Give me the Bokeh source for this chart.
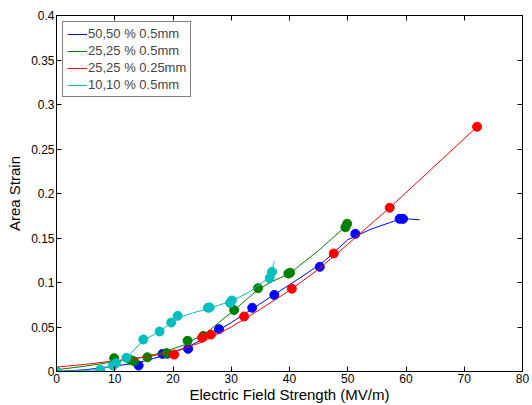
from bokeh.plotting import figure
from bokeh.models import (Range1d, FixedTicker, LinearAxis, CustomJSTickFormatter,
                          Legend, LegendItem)
from bokeh.embed import file_html
from bokeh.resources import INLINE

# ---- data ----
series_names = ["50,50 % 0.5mm", "25,25 % 0.5mm", "25,25 % 0.25mm", "10,10 % 0.5mm"]
series_colors = ["#0000ff", "#008000", "#ff0000", "#00bfbf"]

# measured points (markers)
blue_x = [14.1, 18.2, 19.0, 22.6, 27.9, 33.6, 37.4, 45.2, 51.3, 58.9, 59.5]
blue_y = [0.0067, 0.0198, 0.020, 0.0255, 0.0476, 0.0716, 0.086, 0.1176, 0.1547, 0.1715, 0.1715]
green_x = [9.9, 12.7, 13.3, 15.6, 18.9, 22.5, 25.2, 30.5, 34.6, 39.8, 40.1, 49.6, 49.9]
green_y = [0.015, 0.013, 0.0116, 0.016, 0.0206, 0.0345, 0.040, 0.069, 0.0936, 0.110, 0.111, 0.162, 0.166]
red_x = [0.0, 20.2, 25.0, 26.5, 32.2, 40.4, 47.6, 57.2, 72.2]
red_y = [0.0, 0.019, 0.038, 0.0415, 0.0618, 0.093, 0.1326, 0.184, 0.275]
cyan_x = [0.0, 7.5, 9.7, 10.2, 12.0, 14.9, 17.7, 19.7, 20.8, 26.0, 26.3, 29.8, 30.1, 36.6, 37.0]
cyan_y = [0.0, 0.002, 0.0067, 0.0093, 0.0154, 0.036, 0.045, 0.055, 0.0626, 0.0716, 0.072, 0.077, 0.0798, 0.105, 0.112]

# fitted curves (lines)
blue_fx = [0.0, 5.0, 10.0, 14.0, 18.0, 22.0, 26.0, 30.0, 34.0, 38.0, 42.0, 46.0, 50.0, 54.0, 58.0, 60.0, 62.3]
blue_fy = [0.0, 0.002, 0.006, 0.010, 0.017, 0.026, 0.039, 0.055, 0.072, 0.089, 0.106, 0.124, 0.148, 0.160, 0.169, 0.1715, 0.1706]
green_fx = [0.0, 5.0, 10.0, 14.0, 18.0, 22.0, 26.0, 30.5, 34.6, 37.0, 40.0, 45.0, 49.8]
green_fy = [0.002, 0.006, 0.011, 0.015, 0.021, 0.030, 0.045, 0.069, 0.092, 0.101, 0.110, 0.136, 0.164]
red_fx = [0.0, 5.0, 10.0, 15.0, 20.0, 25.0, 30.0, 35.0, 40.0, 45.0, 50.0, 57.2, 72.2]
red_fy = [0.005, 0.008, 0.012, 0.016, 0.022, 0.033, 0.050, 0.070, 0.091, 0.115, 0.143, 0.184, 0.275]
cyan_fx = [0.0, 7.5, 10.0, 12.0, 14.9, 17.7, 20.8, 23.5, 26.2, 30.0, 33.0, 36.6, 37.4]
cyan_fy = [0.0, 0.002, 0.008, 0.015, 0.035, 0.045, 0.060, 0.066, 0.071, 0.079, 0.089, 0.106, 0.1236]

x_ticks = [0, 10, 20, 30, 40, 50, 60, 70, 80]
y_ticks = [0, 0.05, 0.1, 0.15, 0.2, 0.25, 0.3, 0.35, 0.4]

FONT = "Liberation Sans"

p = figure(width=532, height=405, output_backend="svg", toolbar_location=None,
           x_range=Range1d(0, 80), y_range=Range1d(0, 0.4),
           min_border_left=56, min_border_right=10, min_border_top=15, min_border_bottom=34)
p.xgrid.visible = False
p.ygrid.visible = False
p.outline_line_color = "black"
p.outline_line_width = 1
p.background_fill_color = "white"
p.border_fill_color = "white"

fmt = CustomJSTickFormatter(code="var s = tick.toFixed(2); s = s.replace(/0+$/, ''); s = s.replace(/\\.$/, ''); return s;")

for ax in p.xaxis:
    ax.ticker = FixedTicker(ticks=x_ticks)
    ax.axis_label = "Electric Field Strength (MV/m)"
for ax in p.yaxis:
    ax.ticker = FixedTicker(ticks=y_ticks)
    ax.formatter = fmt
    ax.axis_label = "Area Strain"

for ax in p.xaxis + p.yaxis:
    ax.major_tick_in = 5
    ax.major_tick_out = 0
    ax.minor_tick_in = 0
    ax.minor_tick_out = 0
    ax.axis_line_color = "black"
    ax.major_label_text_font = FONT
    ax.major_label_text_font_size = "12px"
    ax.major_label_text_color = "black"
    ax.axis_label_text_font = FONT
    ax.axis_label_text_font_size = "15px"
    ax.axis_label_text_font_style = "normal"
    ax.axis_label_text_color = "black"
    ax.major_label_standoff = 2
p.xaxis.axis_label_standoff = 0
p.yaxis.axis_label_standoff = 5

# mirror axes (top / right) with inward ticks and no labels
blank = CustomJSTickFormatter(code="return '';")
top = LinearAxis(ticker=FixedTicker(ticks=x_ticks), formatter=blank,
                 major_tick_in=5, major_tick_out=0, minor_tick_in=0, minor_tick_out=0,
                 major_label_standoff=0)
right = LinearAxis(ticker=FixedTicker(ticks=y_ticks), formatter=blank,
                   major_tick_in=5, major_tick_out=0, minor_tick_in=0, minor_tick_out=0,
                   major_label_standoff=0)
p.add_layout(top, "above")
p.add_layout(right, "right")

lines = []
for fx, fy, mx, my, c in [(blue_fx, blue_fy, blue_x, blue_y, series_colors[0]),
                          (green_fx, green_fy, green_x, green_y, series_colors[1]),
                          (red_fx, red_fy, red_x, red_y, series_colors[2]),
                          (cyan_fx, cyan_fy, cyan_x, cyan_y, series_colors[3])]:
    r = p.line(fx, fy, line_color=c, line_width=1)
    lines.append(r)
    p.scatter(mx, my, size=9, fill_color=c, line_color=c, marker="circle")

legend = Legend(items=[LegendItem(label=n, renderers=[r]) for n, r in zip(series_names, lines)],
                location="top_left")
legend.label_text_font = FONT
legend.label_text_font_size = "13px"
legend.label_standoff = 1
legend.glyph_width = 20
legend.glyph_height = 14
legend.label_height = 14
legend.spacing = 2
legend.padding = 4
legend.margin = 6
legend.border_line_color = "black"
legend.border_line_width = 1
legend.background_fill_alpha = 1
p.add_layout(legend)

open("out.html", "w").write(file_html(p, INLINE))
